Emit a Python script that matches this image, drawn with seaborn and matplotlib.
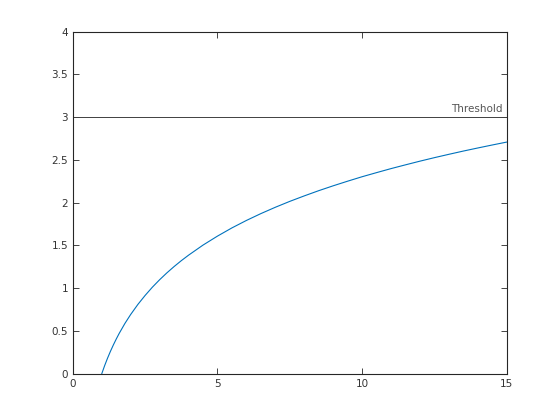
import matplotlib
matplotlib.use("Agg")
import matplotlib.pyplot as plt
import pandas as pd
import seaborn as sns

# values
x_vals = [1.0, 1.1, 1.2, 1.3, 1.4, 1.5, 1.6, 1.8, 2.0, 2.25, 2.5, 2.75, 3.0,
          3.25, 3.5, 3.75, 4.0, 4.5, 5.0, 5.5, 6.0, 6.5, 7.0, 7.5, 8.0, 8.5,
          9.0, 9.5, 10.0, 10.5, 11.0, 11.5, 12.0, 12.5, 13.0, 13.5, 14.0,
          14.5, 15.0]
y_vals = [0.0, 0.095, 0.182, 0.262, 0.336, 0.405, 0.470, 0.588, 0.693,
          0.811, 0.916, 1.012, 1.099, 1.179, 1.253, 1.322, 1.386, 1.504,
          1.609, 1.705, 1.792, 1.872, 1.946, 2.015, 2.079, 2.140, 2.197,
          2.251, 2.303, 2.351, 2.398, 2.442, 2.485, 2.526, 2.565, 2.603,
          2.639, 2.674, 2.708]
threshold = 3.0
threshold_label = "Threshold"
x_ticks = [0, 5, 10, 15]
y_ticks = [0, 0.5, 1, 1.5, 2, 2.5, 3, 3.5, 4]
y_tick_labels = ["0", "0.5", "1", "1.5", "2", "2.5", "3", "3.5", "4"]

sns.set_style("ticks")
plt.rcParams["font.family"] = ["DejaVu Sans"]

df = pd.DataFrame({"x": x_vals, "y": y_vals})

fig = plt.figure(figsize=(5.6, 4.2), dpi=100)
ax = fig.add_axes([0.13, 0.11, 0.775, 0.815])

sns.lineplot(data=df, x="x", y="y", ax=ax, color="#0072BD", linewidth=0.8,
             sort=False)
ax.axhline(threshold, color="#404040", linewidth=0.7)
ax.text(14.85, threshold + 0.04, threshold_label, ha="right", va="bottom",
        fontsize=7.5, color="#555555")

ax.set_xlim(0, 15)
ax.set_ylim(0, 4)
ax.set_xticks(x_ticks)
ax.set_yticks(y_ticks)
ax.set_yticklabels(y_tick_labels)
ax.set_xlabel("")
ax.set_ylabel("")
ax.tick_params(direction="in", top=True, right=True, length=4, width=0.6,
               labelsize=7.5, colors="#262626", labelcolor="#333333")
for s in ax.spines.values():
    s.set_linewidth(0.8)
    s.set_color("#262626")

fig.savefig("out.png", dpi=100)
